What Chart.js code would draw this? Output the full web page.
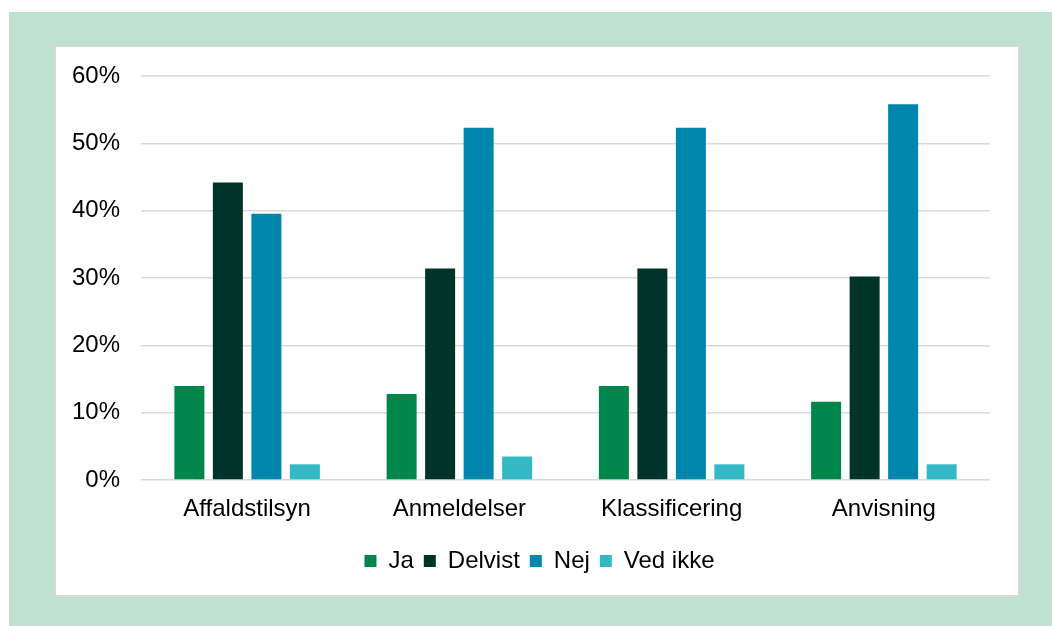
<!DOCTYPE html>
<html>
<head>
<meta charset="utf-8">
<script src="https://cdn.jsdelivr.net/npm/chart.js@4"></script>
<style>
  body { margin: 0; width: 1052px; height: 626px; background: #fff; position: relative; overflow: hidden; }
  #frame { position: absolute; left: 9px; top: 12px; width: 1043px; height: 614px; background: #bfe1d1; }
  #panel { position: absolute; left: 55px; top: 46px; width: 965px; height: 551px; box-sizing: border-box;
           background: #fff; border: 1px solid #d9d9d9; border-right-width: 2px; border-bottom-width: 2px; }
  #wrap { position: absolute; left: 55px; top: 46px; width: 965px; height: 551px; }
</style>
</head>
<body>
<div id="frame"></div>
<div id="panel"></div>
<div id="wrap"><canvas id="myChart"></canvas></div>
<script>
// data (share of answers, %)
var categories = ['Affaldstilsyn', 'Anmeldelser', 'Klassificering', 'Anvisning'];
var ja = [13.95, 12.79, 13.95, 11.63];
var delvist = [44.19, 31.40, 31.40, 30.23];
var nej = [39.53, 52.33, 52.33, 55.81];
var vedIkke = [2.33, 3.49, 2.33, 2.33];
var yTicks = [0, 10, 20, 30, 40, 50, 60];

Chart.defaults.font.family = "'Liberation Sans', Arial, sans-serif";
Chart.defaults.font.size = 24;
Chart.defaults.color = '#000';

function ds(label, values, color) {
  return {
    label: label,
    data: values,
    backgroundColor: color,
    borderWidth: 0,
    categoryPercentage: 0.7256,
    barPercentage: 0.779
  };
}

// legend sits centred on the panel, not on the plot
var legendShift = {
  id: 'legendShift',
  afterLayout: function (chart) {
    chart.legend.left += 17;
    chart.legend.right += 17;
  }
};

var ctx = document.getElementById('myChart').getContext('2d');
var myChart = new Chart(ctx, {
  type: 'bar',
  data: {
    labels: categories,
    datasets: [
      ds('Ja', ja, '#00854b'),
      ds('Delvist', delvist, '#003329'),
      ds('Nej', nej, '#0085ad'),
      ds('Ved ikke', vedIkke, '#34b8c4')
    ]
  },
  options: {
    responsive: true,
    maintainAspectRatio: false,
    animation: false,
    layout: {
      padding: { left: 0, right: 30, top: 30, bottom: 14 }
    },
    plugins: {
      legend: {
        position: 'bottom',
        labels: {
          boxWidth: 12,
          boxHeight: 12,
          padding: 10
        }
      },
      tooltip: { enabled: false }
    },
    scales: {
      x: {
        grid: { display: false },
        border: { display: false },
        ticks: { padding: 7 },
        afterFit: function (scale) { scale.height = 59; }
      },
      y: {
        min: yTicks[0],
        max: yTicks[yTicks.length - 1],
        border: { display: false },
        // invisible tick marks give the gap between labels and grid
        grid: { color: '#d9d9d9', lineWidth: 1.5, drawTicks: true, tickLength: 21, tickColor: 'rgba(0,0,0,0)' },
        ticks: {
          stepSize: 10,
          padding: 0,
          callback: function (v) { return v + '%'; }
        },
        afterFit: function (scale) { scale.width = 86; }
      }
    }
  },
  plugins: [legendShift]
});
</script>
</body>
</html>
